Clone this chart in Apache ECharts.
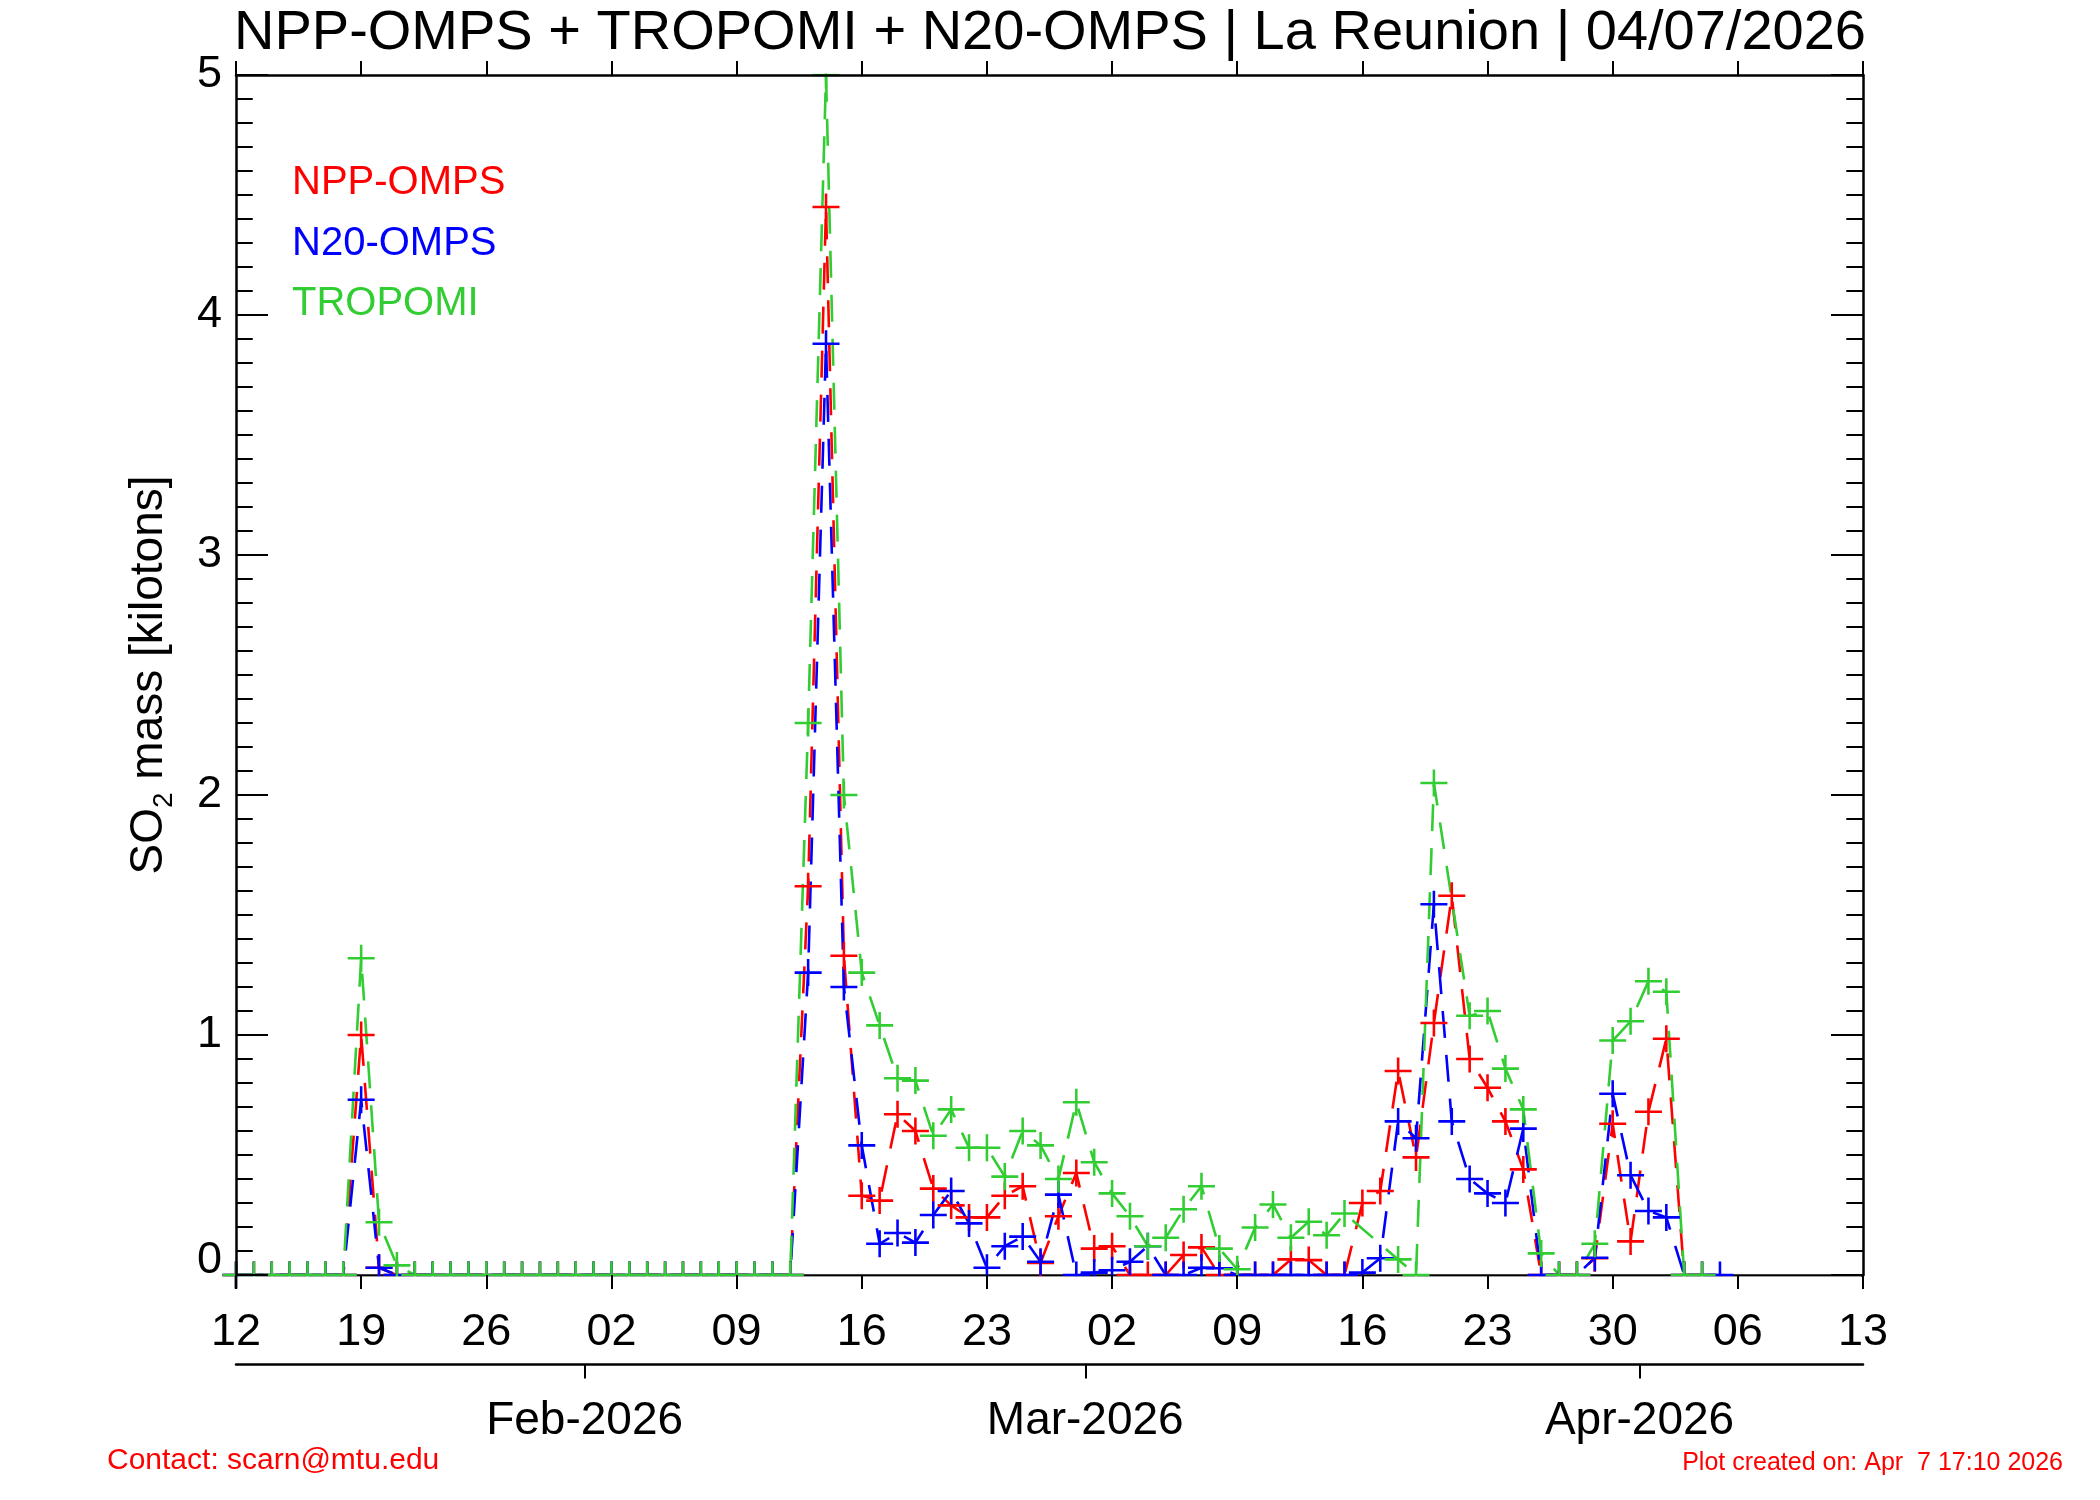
<!DOCTYPE html>
<html>
<head>
<meta charset="utf-8">
<script src="https://cdn.jsdelivr.net/npm/echarts@6/dist/echarts.min.js"></script>
<style>html,body{margin:0;padding:0;background:#fff;}#c{width:2100px;height:1500px;}</style>
</head>
<body>
<div id="c"></div>
<script>
// ---- data (day offsets from 2026-01-12) ----
const startDate = '2026-01-12';
const weekLabels = ['12','19','26','02','09','16','23','02','09','16','23','30','06','13'];
const monthLabels = ['Feb-2026','Mar-2026','Apr-2026'];
const monthStarts = ['2026-02-01','2026-03-01','2026-04-01'];
const seriesNames = ['NPP-OMPS','N20-OMPS','TROPOMI'];

const nppOmps = [
  0,0,0,0,0,0,0, 1.00,0.03,0,
  0,0,0,0,0,0,0,0,0,0,0,0,0,0,0,0,0,0,0,0,0,0,
  1.62,4.45,1.33,0.33,0.31,0.67,0.60,0.36,0.29,0.24,0.24,0.33,0.37,0.05,0.245,0.425,0.11,0.12,
  0,0,0,0.083,0.115,0,0,0,0,0.065,0.062,0,0,0.30,0.35,0.85,0.49,1.05,1.58,0.90,0.78,0.64,0.44,
  0,0,0,0.07,0.63,0.14,0.68,0.984,0,0,null
];
const n20Omps = [
  0,0,0,0,0,0,0, 0.73,0.03,0,
  0,0,0,0,0,0,0,0,0,0,0,0,0,0,0,0,0,0,0,0,0,0,
  1.26,3.88,1.20,0.54,0.13,0.175,0.135,0.25,0.35,0.215,0.03,0.12,0.16,0.055,0.335,0,0.01,0.02,
  0.055,0.12,0,0,0.03,0.028,0,0,0,0,0,0,0,0.01,0.07,0.64,0.57,1.545,0.64,0.40,0.34,0.30,0.61,
  0,0,0,0.072,0.755,0.416,0.267,0.24,0,0,0
];
const tropomi = [
  0,0,0,0,0,0,0, 1.32,0.22,0.04,
  0,0,0,0,0,0,0,0,0,0,0,0,0,0,0,0,0,0,0,0,0,0,
  2.30,5.0,2.00,1.26,1.04,0.82,0.81,0.58,0.69,0.53,0.53,0.41,0.60,0.54,0.40,0.72,0.47,0.34,
  0.245,0.12,0.155,0.274,0.37,0.11,0.024,0.198,0.294,0.155,0.222,0.166,0.256,null,null,0.065,0,2.05,null,1.08,1.10,0.86,0.69,
  0.09,0,0,0.13,0.977,1.057,1.224,1.18,0,0,null
];

// ---- helpers ----
const DAY = 86400000;
const t0 = Date.parse(startDate + 'T00:00:00Z');
const dayOf = s => (Date.parse(s + 'T00:00:00Z') - t0) / DAY;
const monthTicks = monthStarts.map(s => dayOf(s) - 0.5);
const toPts = arr => arr.map((v, i) => [i, v === null ? '-' : v]);

const FONT = 'Liberation Sans';
const RED = '#ff0000', BLUE = '#0000ff', GREEN = '#32cd32';
const colors = [RED, BLUE, GREEN];
const CROSS = 'path://M9.05,0H10.95V20H9.05ZM0,9.05H20V10.95H0Z';

const L = 236, R = 1863, T = 75, B = 1275;

function mkSeries(name, arr, color) {
  return {
    name: name, type: 'line', data: toPts(arr),
    xAxisIndex: 0, yAxisIndex: 0,
    connectNulls: true, showAllSymbol: true,
    symbol: CROSS, symbolSize: 27,
    itemStyle: { color: color },
    lineStyle: { color: color, width: 2.6, type: [27, 17] },
    emphasis: { disabled: true },
    silent: true, animation: false, z: 2
  };
}

const chart = echarts.init(document.getElementById('c'), null, { renderer: 'canvas' });

chart.setOption({
  backgroundColor: '#fff',
  animation: false,
  title: [
    { text: 'NPP-OMPS + TROPOMI + N20-OMPS | La Reunion | 04/07/2026', left: 'center', top: 6, padding: 0,
      textStyle: { fontFamily: FONT, fontSize: 56, fontWeight: 'normal', color: '#000' } },
    { text: 'Contact: scarn@mtu.edu', left: 107, top: 1446, padding: 0,
      textStyle: { fontFamily: FONT, fontSize: 30, fontWeight: 'normal', color: RED } },
    { text: 'Plot created on: Apr  7 17:10 2026', right: 37, top: 1451, padding: 0,
      textStyle: { fontFamily: FONT, fontSize: 25, fontWeight: 'normal', color: RED } }
  ],
  legend: {
    orient: 'vertical', left: 287, top: 163, padding: 0,
    icon: 'none', itemWidth: 0, itemHeight: 40, itemGap: 20.5,
    selectedMode: false,
    textStyle: { fontFamily: FONT, fontSize: 40 },
    data: seriesNames.map((n, i) => ({ name: n, textStyle: { color: colors[i], fontFamily: FONT, fontSize: 40 } }))
  },
  grid: { left: L, right: 2100 - R, top: T, bottom: 1500 - B, containLabel: false, outerBoundsMode: 'none' },
  xAxis: [
    { // main bottom axis with labels
      type: 'value', position: 'bottom', min: 0, max: 91, interval: 7,
      axisLine: { show: true, onZero: false, lineStyle: { color: '#000', width: 2.5 } },
      axisTick: { show: false },
      axisLabel: { show: true, fontFamily: FONT, fontSize: 45, color: '#000', margin: 35,
        formatter: v => weekLabels[Math.round(v / 7)] },
      splitLine: { show: false }, z: 0
    },
    { // top axis
      type: 'value', position: 'top', min: 0, max: 91, interval: 7,
      axisLine: { show: true, onZero: false, lineStyle: { color: '#000', width: 2.5 } },
      axisTick: { show: true, inside: false, length: 14, lineStyle: { color: '#000', width: 2 } },
      axisLabel: { show: false }, splitLine: { show: false }, z: 10
    },
    { // month axis
      type: 'value', position: 'bottom', offset: 89.5, min: 0, max: 91,
      axisLine: { show: true, onZero: false, lineStyle: { color: '#000', width: 2.5 } },
      axisTick: { show: true, inside: false, length: 14, customValues: monthTicks, lineStyle: { color: '#000', width: 2 } },
      axisLabel: { show: true, fontFamily: FONT, fontSize: 46, color: '#000', margin: 34,
        customValues: monthTicks, formatter: v => monthLabels[monthTicks.indexOf(v)] },
      splitLine: { show: false }, z: 0
    },
    { // bottom ticks drawn above mask
      type: 'value', position: 'bottom', min: 0, max: 91, interval: 7,
      axisLine: { show: false, onZero: false },
      axisTick: { show: true, inside: false, length: 14, lineStyle: { color: '#000', width: 2 } },
      axisLabel: { show: false }, splitLine: { show: false }, z: 10
    }
  ],
  yAxis: [
    {
      type: 'value', position: 'left', min: 0, max: 5, interval: 1,
      name: '{a|SO}{b|2}{a| mass [kilotons]}', nameLocation: 'middle', nameGap: 58, nameMoveOverlap: false,
      nameTextStyle: { fontFamily: FONT, color: '#000',
        rich: { a: { fontFamily: FONT, fontSize: 46, lineHeight: 58, color: '#000' },
                b: { fontFamily: FONT, fontSize: 28, lineHeight: 28, verticalAlign: 'bottom', color: '#000' } } },
      axisLine: { show: true, onZero: false, lineStyle: { color: '#000', width: 2.5 } },
      axisTick: { show: true, inside: true, length: 32, lineStyle: { color: '#000', width: 2 } },
      minorTick: { show: true, splitNumber: 10, length: 16.7, lineStyle: { color: '#000', width: 2 } },
      axisLabel: { show: true, fontFamily: FONT, fontSize: 45, color: '#000', margin: 14,
        formatter: v => v === 0 ? '{z|0}' : String(v),
        rich: { z: { fontFamily: FONT, fontSize: 45, color: '#000', padding: [0, 0, 28, 0] } } },
      splitLine: { show: false }, minorSplitLine: { show: false }, z: 10
    },
    {
      type: 'value', position: 'right', min: 0, max: 5, interval: 1,
      axisLine: { show: true, onZero: false, lineStyle: { color: '#000', width: 2.5 } },
      axisTick: { show: true, inside: true, length: 32, lineStyle: { color: '#000', width: 2 } },
      minorTick: { show: true, splitNumber: 10, length: 16.7, lineStyle: { color: '#000', width: 2 } },
      axisLabel: { show: false },
      splitLine: { show: false }, minorSplitLine: { show: false }, z: 10
    }
  ],
  graphic: [
    { type: 'rect', silent: true, z: 5, shape: { x: L + 2, y: B + 1.5, width: R - L - 4, height: 16 }, style: { fill: '#fff' } },
    { type: 'rect', silent: true, z: 5, shape: { x: L + 2, y: T - 17, width: R - L - 4, height: 15.5 }, style: { fill: '#fff' } }
  ],
  series: [
    mkSeries(seriesNames[0], nppOmps, RED),
    mkSeries(seriesNames[1], n20Omps, BLUE),
    mkSeries(seriesNames[2], tropomi, GREEN)
  ]
});
</script>
</body>
</html>
